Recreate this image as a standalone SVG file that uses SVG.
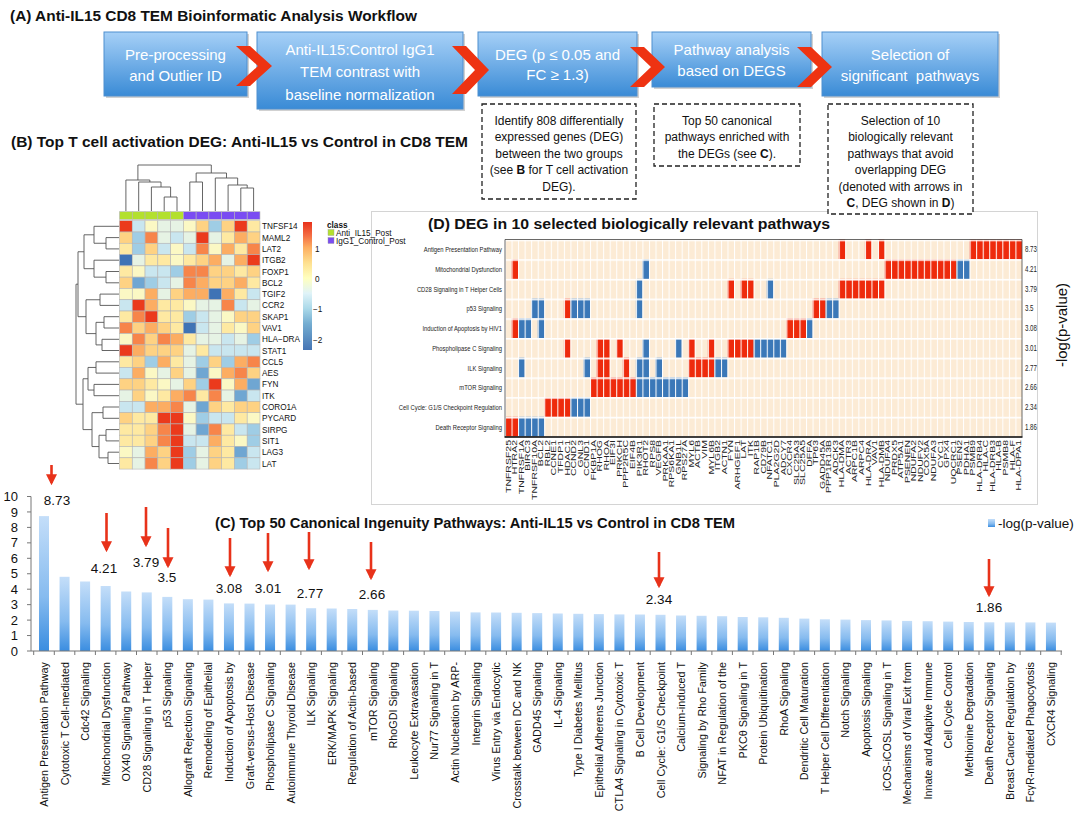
<svg xmlns="http://www.w3.org/2000/svg" xmlns:xlink="http://www.w3.org/1999/xlink" width="1078" height="815" viewBox="0 0 1078 815">
<style>
text{font-family:"Liberation Sans",Arial,sans-serif}
.ttl{font-weight:bold;font-size:14.5px;fill:#111}
.wf{fill:url(#bg);stroke:#4f8fcf;stroke-width:1}
.sh{fill:#9a9a9a;opacity:.45}
.wft{font-size:15px;fill:#fff;text-anchor:middle}
.chev{fill:#ee3312}
.dash{fill:#fff;stroke:#222;stroke-width:1.3;stroke-dasharray:5 3}
.dt{font-size:12px;fill:#111;text-anchor:middle}
.hl{font-size:8.2px;fill:#111}
.dend{fill:none;stroke:#555;stroke-width:.9}
.hm use{stroke:#b5b5b5;stroke-width:.6}
.k0{fill:#3f73b5}.k1{fill:#6fa6d2}.k2{fill:#9fcde5}.k3{fill:#c9e6ef}.k4{fill:#e6f3e4}.k5{fill:#fbf8c4}.k6{fill:#fee9a2}.k7{fill:#fed283}.k8{fill:#fcad62}.k9{fill:#f7854a}.k10{fill:#eb3a1c}
.glab text{font-size:7px;fill:#222;text-anchor:end}
.plab text{font-size:8px;fill:#222;text-anchor:end}
.pval text{font-size:8.5px;fill:#222}
.R{fill:#ee2a0c}.B{fill:#3b78b8}
.bar{fill:url(#barg)}
.xl text{font-size:10.8px;fill:#111;text-anchor:end}
.yl{font-size:13px;fill:#111;text-anchor:end}
.val{font-size:13.5px;fill:#111;text-anchor:middle}
.arr{stroke:#e8321a;stroke-width:2.6;marker-end:url(#ah)}
.ax{stroke:#777;stroke-width:1;fill:none}
</style>
<defs>
<linearGradient id="bg" x1="0" y1="0" x2="0" y2="1"><stop offset="0" stop-color="#a6d0f7"/><stop offset="1" stop-color="#3a8bd6"/></linearGradient>
<linearGradient id="barg" x1="0" y1="0" x2="0" y2="1"><stop offset="0" stop-color="#c4def9"/><stop offset=".6" stop-color="#86bbef"/><stop offset="1" stop-color="#3a8de0"/></linearGradient>
<linearGradient id="cbar" x1="0" y1="0" x2="0" y2="1"><stop offset="0" stop-color="#e8311b"/><stop offset=".105" stop-color="#f46d43"/><stop offset=".2" stop-color="#fdae61"/><stop offset=".319" stop-color="#fee090"/><stop offset=".438" stop-color="#ffffbf"/><stop offset=".557" stop-color="#e0f3f8"/><stop offset=".676" stop-color="#abd9e9"/><stop offset=".795" stop-color="#74add1"/><stop offset="1" stop-color="#4575b4"/></linearGradient>
<pattern id="gl" patternUnits="userSpaceOnUse" x="505" y="239.5" width="6.544" height="19.7"><rect x="0" y="0" width="1" height="19.7" fill="#fff"/><rect x="0" y="0" width="6.544" height="1.6" fill="#fff"/></pattern>
<rect id="c" width="12.77" height="11.29"/>
<marker id="ah" viewBox="0 0 10 10" refX="8" refY="5" markerWidth="11" markerHeight="12" markerUnits="userSpaceOnUse" orient="auto"><path d="M0,0 L10,5 L0,10 z" fill="#e8321a"/></marker>
</defs>
<rect width="1078" height="815" fill="#fff"/>

<!-- Panel A -->
<text class="ttl" x="10" y="21" textLength="407" lengthAdjust="spacingAndGlyphs">(A) Anti-IL15 CD8 TEM Bioinformatic Analysis Workflow</text>
<g id="wf1"><rect class="sh" x="106" y="34" width="143" height="64"/><rect class="wf" x="104" y="32" width="143" height="64"/><text class="wft" x="175.5" y="60">Pre-processing</text><text class="wft" x="175.5" y="81">and Outlier ID</text></g>
<g id="wf2"><rect class="sh" x="259" y="34" width="206" height="77"/><rect class="wf" x="257" y="32" width="206" height="77"/><text class="wft" x="360" y="55">Anti-IL15:Control IgG1</text><text class="wft" x="360" y="77">TEM contrast with</text><text class="wft" x="360" y="100">baseline normalization</text></g>
<g id="wf3"><rect class="sh" x="480" y="34" width="159" height="64"/><rect class="wf" x="478" y="32" width="159" height="64"/><text class="wft" x="557.5" y="60">DEG (p ≤ 0.05 and</text><text class="wft" x="557.5" y="80">FC ≥ 1.3)</text></g>
<g id="wf4"><rect class="sh" x="654" y="34" width="159" height="55"/><rect class="wf" x="652" y="32" width="159" height="55"/><text class="wft" x="731.5" y="55">Pathway analysis</text><text class="wft" x="731.5" y="76">based on DEGS</text></g>
<g id="wf5"><rect class="sh" x="824" y="34" width="176" height="64"/><rect class="wf" x="822" y="32" width="176" height="64"/><text class="wft" x="910" y="60">Selection of</text><text class="wft" x="910" y="81" xml:space="preserve">significant  pathways</text></g>
<g id="chevrons">
<polygon class="chev" points="236,46 250,46 272,66 250,86 236,86 258,66"/>
<polygon class="chev" points="452,46 466,46 489,70 466,94 452,94 475,70"/>
<polygon class="chev" points="630,47 644,47 665,67 644,87 630,87 651,67"/>
<polygon class="chev" points="797,47 811,47 832,67 811,87 797,87 818,67"/>
</g>
<g id="noteA"><rect class="dash" x="482" y="104" width="154" height="95"/>
<text class="dt" x="559" y="124.5">Identify 808 differentially</text><text class="dt" x="559" y="141">expressed genes (DEG)</text><text class="dt" x="559" y="157.5">between the two groups</text><text class="dt" x="559" y="174">(see <tspan font-weight="bold">B</tspan> for T cell activation</text><text class="dt" x="559" y="190.5">DEG).</text></g>
<g id="noteB"><rect class="dash" x="654" y="104" width="146" height="62"/>
<text class="dt" x="727" y="124.5">Top 50 canonical</text><text class="dt" x="727" y="141">pathways enriched with</text><text class="dt" x="727" y="157.5">the DEGs (see <tspan font-weight="bold">C</tspan>).</text></g>

<!-- Panel D box -->
<rect x="371.5" y="211.5" width="666" height="293" fill="none" stroke="#d4d4d4" stroke-width="1"/>

<g id="noteC"><rect class="dash" x="828" y="104" width="145" height="110"/>
<text class="dt" x="900.5" y="124.5">Selection of 10</text><text class="dt" x="900.5" y="141">biologically relevant</text><text class="dt" x="900.5" y="157.5">pathways that avoid</text><text class="dt" x="900.5" y="174">overlapping DEG</text><text class="dt" x="900.5" y="190.5">(denoted with arrows in</text><text class="dt" x="900.5" y="207"><tspan font-weight="bold">C</tspan>, DEG shown in <tspan font-weight="bold">D</tspan>)</text></g>

<!-- Panel B -->
<text class="ttl" x="11" y="147" textLength="457" lengthAdjust="spacingAndGlyphs">(B) Top T cell activation DEG: Anti-IL15 vs Control in CD8 TEM</text>
<g id="dendro-top" class="dend">
<path d="M164.2 211V197H177V211"/><path d="M151.4 211V187H170.6V197"/><path d="M138.7 211V182H161V187"/><path d="M125.9 211V180H149.85V182"/>
<path d="M189.8 211V182H202.5V211"/><path d="M240.8 211V188H253.6V211"/><path d="M228.1 211V185H247.2V188"/><path d="M215.3 211V178H237.65V185"/><path d="M196.15 182V173H226.5V178"/>
<path d="M137.9 180V165H211.3V173"/>
</g>
<g id="dendro-left" class="dend">
<path d="M119 237.6H106V248.9H119"/><path d="M119 226.3H94V243.25H106"/><path d="M119 271.5H106V282.8H119"/><path d="M119 260.2H94V277.15H106"/><path d="M94 234.8H84V268.7H94"/>
<path d="M119 294.1H100V305.4H119"/><path d="M119 316.7H104V328H119"/><path d="M119 339.3H102V350.5H119"/><path d="M104 322.35H96V344.9H102"/><path d="M100 299.75H86V333.6H96"/><path d="M84 251.75H78V316.7H86"/>
<path d="M119 361.8H96V373.1H119"/><path d="M119 384.4H94V395.7H119"/><path d="M119 407H103V418.3H119"/><path d="M119 429.6H106V440.9H119"/><path d="M119 452.2H108V463.5H119"/><path d="M106 435.25H99V457.85H108"/><path d="M103 412.65H92V446.55H99"/><path d="M96 367.45H88V390.05H94"/><path d="M88 378.75H83V429.6H92"/>
<path d="M78 284.2H76V404.2H83"/>
</g>
<g id="classbar" stroke="#b5b5b5" stroke-width=".6">
<rect x="119.5" y="211.7" width="12.77" height="7.6" fill="#b3e02f"/><rect x="132.27" y="211.7" width="12.77" height="7.6" fill="#b3e02f"/><rect x="145.04" y="211.7" width="12.77" height="7.6" fill="#b3e02f"/><rect x="157.81" y="211.7" width="12.77" height="7.6" fill="#b3e02f"/><rect x="170.58" y="211.7" width="12.77" height="7.6" fill="#b3e02f"/>
<rect x="183.35" y="211.7" width="12.77" height="7.6" fill="#7a4cf2"/><rect x="196.12" y="211.7" width="12.77" height="7.6" fill="#7a4cf2"/><rect x="208.89" y="211.7" width="12.77" height="7.6" fill="#7a4cf2"/><rect x="221.66" y="211.7" width="12.77" height="7.6" fill="#7a4cf2"/><rect x="234.43" y="211.7" width="12.77" height="7.6" fill="#7a4cf2"/><rect x="247.2" y="211.7" width="12.77" height="7.6" fill="#7a4cf2"/>
</g>
<g id="heatmapB" class="hm">
<g transform="translate(0,220.7)"><use href="#c" x="119.5" class="k10"/><use href="#c" x="132.27" class="k3"/><use href="#c" x="145.04" class="k5"/><use href="#c" x="157.81" class="k4"/><use href="#c" x="170.58" class="k4"/><use href="#c" x="183.35" class="k5"/><use href="#c" x="196.12" class="k7"/><use href="#c" x="208.89" class="k2"/><use href="#c" x="221.66" class="k7"/><use href="#c" x="234.43" class="k10"/><use href="#c" x="247.2" class="k6"/></g>
<g transform="translate(0,231.99)"><use href="#c" x="119.5" class="k7"/><use href="#c" x="132.27" class="k2"/><use href="#c" x="145.04" class="k9"/><use href="#c" x="157.81" class="k4"/><use href="#c" x="170.58" class="k3"/><use href="#c" x="183.35" class="k4"/><use href="#c" x="196.12" class="k10"/><use href="#c" x="208.89" class="k4"/><use href="#c" x="221.66" class="k6"/><use href="#c" x="234.43" class="k8"/><use href="#c" x="247.2" class="k7"/></g>
<g transform="translate(0,243.28)"><use href="#c" x="119.5" class="k6"/><use href="#c" x="132.27" class="k2"/><use href="#c" x="145.04" class="k7"/><use href="#c" x="157.81" class="k3"/><use href="#c" x="170.58" class="k5"/><use href="#c" x="183.35" class="k3"/><use href="#c" x="196.12" class="k9"/><use href="#c" x="208.89" class="k5"/><use href="#c" x="221.66" class="k8"/><use href="#c" x="234.43" class="k6"/><use href="#c" x="247.2" class="k9"/></g>
<g transform="translate(0,254.57)"><use href="#c" x="119.5" class="k0"/><use href="#c" x="132.27" class="k4"/><use href="#c" x="145.04" class="k6"/><use href="#c" x="157.81" class="k6"/><use href="#c" x="170.58" class="k5"/><use href="#c" x="183.35" class="k6"/><use href="#c" x="196.12" class="k7"/><use href="#c" x="208.89" class="k8"/><use href="#c" x="221.66" class="k4"/><use href="#c" x="234.43" class="k8"/><use href="#c" x="247.2" class="k10"/></g>
<g transform="translate(0,265.86)"><use href="#c" x="119.5" class="k6"/><use href="#c" x="132.27" class="k5"/><use href="#c" x="145.04" class="k3"/><use href="#c" x="157.81" class="k3"/><use href="#c" x="170.58" class="k2"/><use href="#c" x="183.35" class="k9"/><use href="#c" x="196.12" class="k9"/><use href="#c" x="208.89" class="k7"/><use href="#c" x="221.66" class="k7"/><use href="#c" x="234.43" class="k6"/><use href="#c" x="247.2" class="k7"/></g>
<g transform="translate(0,277.15)"><use href="#c" x="119.5" class="k7"/><use href="#c" x="132.27" class="k1"/><use href="#c" x="145.04" class="k2"/><use href="#c" x="157.81" class="k3"/><use href="#c" x="170.58" class="k4"/><use href="#c" x="183.35" class="k9"/><use href="#c" x="196.12" class="k8"/><use href="#c" x="208.89" class="k7"/><use href="#c" x="221.66" class="k7"/><use href="#c" x="234.43" class="k8"/><use href="#c" x="247.2" class="k6"/></g>
<g transform="translate(0,288.44)"><use href="#c" x="119.5" class="k5"/><use href="#c" x="132.27" class="k5"/><use href="#c" x="145.04" class="k8"/><use href="#c" x="157.81" class="k4"/><use href="#c" x="170.58" class="k7"/><use href="#c" x="183.35" class="k8"/><use href="#c" x="196.12" class="k8"/><use href="#c" x="208.89" class="k0"/><use href="#c" x="221.66" class="k8"/><use href="#c" x="234.43" class="k6"/><use href="#c" x="247.2" class="k3"/></g>
<g transform="translate(0,299.73)"><use href="#c" x="119.5" class="k3"/><use href="#c" x="132.27" class="k10"/><use href="#c" x="145.04" class="k8"/><use href="#c" x="157.81" class="k6"/><use href="#c" x="170.58" class="k6"/><use href="#c" x="183.35" class="k5"/><use href="#c" x="196.12" class="k4"/><use href="#c" x="208.89" class="k4"/><use href="#c" x="221.66" class="k9"/><use href="#c" x="234.43" class="k3"/><use href="#c" x="247.2" class="k4"/></g>
<g transform="translate(0,311.02)"><use href="#c" x="119.5" class="k6"/><use href="#c" x="132.27" class="k9"/><use href="#c" x="145.04" class="k10"/><use href="#c" x="157.81" class="k6"/><use href="#c" x="170.58" class="k6"/><use href="#c" x="183.35" class="k2"/><use href="#c" x="196.12" class="k3"/><use href="#c" x="208.89" class="k4"/><use href="#c" x="221.66" class="k5"/><use href="#c" x="234.43" class="k7"/><use href="#c" x="247.2" class="k7"/></g>
<g transform="translate(0,322.31)"><use href="#c" x="119.5" class="k9"/><use href="#c" x="132.27" class="k7"/><use href="#c" x="145.04" class="k8"/><use href="#c" x="157.81" class="k7"/><use href="#c" x="170.58" class="k6"/><use href="#c" x="183.35" class="k0"/><use href="#c" x="196.12" class="k3"/><use href="#c" x="208.89" class="k4"/><use href="#c" x="221.66" class="k6"/><use href="#c" x="234.43" class="k5"/><use href="#c" x="247.2" class="k7"/></g>
<g transform="translate(0,333.6)"><use href="#c" x="119.5" class="k5"/><use href="#c" x="132.27" class="k9"/><use href="#c" x="145.04" class="k7"/><use href="#c" x="157.81" class="k9"/><use href="#c" x="170.58" class="k8"/><use href="#c" x="183.35" class="k6"/><use href="#c" x="196.12" class="k4"/><use href="#c" x="208.89" class="k4"/><use href="#c" x="221.66" class="k3"/><use href="#c" x="234.43" class="k4"/><use href="#c" x="247.2" class="k2"/></g>
<g transform="translate(0,344.89)"><use href="#c" x="119.5" class="k10"/><use href="#c" x="132.27" class="k8"/><use href="#c" x="145.04" class="k7"/><use href="#c" x="157.81" class="k7"/><use href="#c" x="170.58" class="k7"/><use href="#c" x="183.35" class="k4"/><use href="#c" x="196.12" class="k6"/><use href="#c" x="208.89" class="k3"/><use href="#c" x="221.66" class="k3"/><use href="#c" x="234.43" class="k3"/><use href="#c" x="247.2" class="k3"/></g>
<g transform="translate(0,356.18)"><use href="#c" x="119.5" class="k6"/><use href="#c" x="132.27" class="k7"/><use href="#c" x="145.04" class="k2"/><use href="#c" x="157.81" class="k8"/><use href="#c" x="170.58" class="k6"/><use href="#c" x="183.35" class="k4"/><use href="#c" x="196.12" class="k2"/><use href="#c" x="208.89" class="k7"/><use href="#c" x="221.66" class="k2"/><use href="#c" x="234.43" class="k8"/><use href="#c" x="247.2" class="k9"/></g>
<g transform="translate(0,367.47)"><use href="#c" x="119.5" class="k3"/><use href="#c" x="132.27" class="k8"/><use href="#c" x="145.04" class="k5"/><use href="#c" x="157.81" class="k4"/><use href="#c" x="170.58" class="k7"/><use href="#c" x="183.35" class="k4"/><use href="#c" x="196.12" class="k1"/><use href="#c" x="208.89" class="k5"/><use href="#c" x="221.66" class="k8"/><use href="#c" x="234.43" class="k9"/><use href="#c" x="247.2" class="k7"/></g>
<g transform="translate(0,378.76)"><use href="#c" x="119.5" class="k7"/><use href="#c" x="132.27" class="k7"/><use href="#c" x="145.04" class="k6"/><use href="#c" x="157.81" class="k5"/><use href="#c" x="170.58" class="k4"/><use href="#c" x="183.35" class="k7"/><use href="#c" x="196.12" class="k2"/><use href="#c" x="208.89" class="k10"/><use href="#c" x="221.66" class="k5"/><use href="#c" x="234.43" class="k8"/><use href="#c" x="247.2" class="k1"/></g>
<g transform="translate(0,390.05)"><use href="#c" x="119.5" class="k4"/><use href="#c" x="132.27" class="k7"/><use href="#c" x="145.04" class="k5"/><use href="#c" x="157.81" class="k6"/><use href="#c" x="170.58" class="k8"/><use href="#c" x="183.35" class="k9"/><use href="#c" x="196.12" class="k6"/><use href="#c" x="208.89" class="k9"/><use href="#c" x="221.66" class="k4"/><use href="#c" x="234.43" class="k1"/><use href="#c" x="247.2" class="k3"/></g>
<g transform="translate(0,401.34)"><use href="#c" x="119.5" class="k3"/><use href="#c" x="132.27" class="k3"/><use href="#c" x="145.04" class="k8"/><use href="#c" x="157.81" class="k8"/><use href="#c" x="170.58" class="k9"/><use href="#c" x="183.35" class="k4"/><use href="#c" x="196.12" class="k1"/><use href="#c" x="208.89" class="k7"/><use href="#c" x="221.66" class="k6"/><use href="#c" x="234.43" class="k7"/><use href="#c" x="247.2" class="k7"/></g>
<g transform="translate(0,412.63)"><use href="#c" x="119.5" class="k7"/><use href="#c" x="132.27" class="k6"/><use href="#c" x="145.04" class="k6"/><use href="#c" x="157.81" class="k10"/><use href="#c" x="170.58" class="k10"/><use href="#c" x="183.35" class="k5"/><use href="#c" x="196.12" class="k2"/><use href="#c" x="208.89" class="k3"/><use href="#c" x="221.66" class="k3"/><use href="#c" x="234.43" class="k6"/><use href="#c" x="247.2" class="k5"/></g>
<g transform="translate(0,423.92)"><use href="#c" x="119.5" class="k6"/><use href="#c" x="132.27" class="k6"/><use href="#c" x="145.04" class="k7"/><use href="#c" x="157.81" class="k9"/><use href="#c" x="170.58" class="k10"/><use href="#c" x="183.35" class="k4"/><use href="#c" x="196.12" class="k1"/><use href="#c" x="208.89" class="k9"/><use href="#c" x="221.66" class="k6"/><use href="#c" x="234.43" class="k3"/><use href="#c" x="247.2" class="k2"/></g>
<g transform="translate(0,435.21)"><use href="#c" x="119.5" class="k6"/><use href="#c" x="132.27" class="k6"/><use href="#c" x="145.04" class="k7"/><use href="#c" x="157.81" class="k9"/><use href="#c" x="170.58" class="k10"/><use href="#c" x="183.35" class="k3"/><use href="#c" x="196.12" class="k3"/><use href="#c" x="208.89" class="k8"/><use href="#c" x="221.66" class="k6"/><use href="#c" x="234.43" class="k5"/><use href="#c" x="247.2" class="k2"/></g>
<g transform="translate(0,446.5)"><use href="#c" x="119.5" class="k5"/><use href="#c" x="132.27" class="k4"/><use href="#c" x="145.04" class="k8"/><use href="#c" x="157.81" class="k7"/><use href="#c" x="170.58" class="k10"/><use href="#c" x="183.35" class="k2"/><use href="#c" x="196.12" class="k4"/><use href="#c" x="208.89" class="k7"/><use href="#c" x="221.66" class="k6"/><use href="#c" x="234.43" class="k1"/><use href="#c" x="247.2" class="k3"/></g>
<g transform="translate(0,457.79)"><use href="#c" x="119.5" class="k6"/><use href="#c" x="132.27" class="k4"/><use href="#c" x="145.04" class="k9"/><use href="#c" x="157.81" class="k7"/><use href="#c" x="170.58" class="k10"/><use href="#c" x="183.35" class="k2"/><use href="#c" x="196.12" class="k4"/><use href="#c" x="208.89" class="k7"/><use href="#c" x="221.66" class="k6"/><use href="#c" x="234.43" class="k2"/><use href="#c" x="247.2" class="k3"/></g>
</g>
<g id="rowlabelsB" class="hl">
<text x="262" y="229.3">TNFSF14</text><text x="262" y="240.6">MAML2</text><text x="262" y="251.9">LAT2</text><text x="262" y="263.2">ITGB2</text><text x="262" y="274.5">FOXP1</text><text x="262" y="285.8">BCL2</text><text x="262" y="297.1">TGIF2</text><text x="262" y="308.4">CCR2</text><text x="262" y="319.7">SKAP1</text><text x="262" y="331">VAV1</text><text x="262" y="342.3">HLA−DRA</text><text x="262" y="353.5">STAT1</text><text x="262" y="364.8">CCL5</text><text x="262" y="376.1">AES</text><text x="262" y="387.4">FYN</text><text x="262" y="398.7">ITK</text><text x="262" y="410">CORO1A</text><text x="262" y="421.3">PYCARD</text><text x="262" y="432.6">SIRPG</text><text x="262" y="443.9">SIT1</text><text x="262" y="455.2">LAG3</text><text x="262" y="466.5">LAT</text>
</g>
<g id="colorkey">
<rect x="303" y="222" width="9" height="128" fill="url(#cbar)"/>
<text class="hl" x="315" y="251.5" font-size="9">1</text><text class="hl" x="315" y="281.5" font-size="9">0</text><text class="hl" x="313" y="312" font-size="9">−1</text><text class="hl" x="313" y="342.5" font-size="9">−2</text>
</g>
<g id="classlegend">
<text class="hl" x="327" y="228" font-weight="bold">class</text>
<rect x="328" y="229.5" width="6" height="6" fill="#b3e02f" stroke="#999" stroke-width=".4"/><text class="hl" x="336" y="235.5">Anti_IL15_Post</text>
<rect x="328" y="237.5" width="6" height="6" fill="#7a4cf2" stroke="#999" stroke-width=".4"/><text class="hl" x="336" y="243.5">IgG1_Control_Post</text>
</g>

<!-- Panel D -->
<text class="ttl" x="428" y="229" textLength="402" lengthAdjust="spacingAndGlyphs">(D) DEG in 10 selected biologically relevant pathways</text>
<g id="heatmapD">
<rect x="505" y="239.5" width="517" height="197" fill="#fcebd5"/>
<g transform="translate(0,239.5)"><rect class="R" x="838.74" width="6.54" height="19.7"/><rect class="R" x="864.92" width="6.54" height="19.7"/><rect class="R" x="878.01" width="6.54" height="19.7"/><rect class="R" x="969.62" width="52.35" height="19.7"/></g>
<g transform="translate(0,259.2)"><rect class="R" x="511.54" width="6.54" height="19.7"/><rect class="B" x="642.42" width="6.54" height="19.7"/><rect class="R" x="884.55" width="71.98" height="19.7"/><rect class="B" x="956.54" width="13.09" height="19.7"/></g>
<g transform="translate(0,278.9)"><rect class="B" x="635.88" width="6.54" height="19.7"/><rect class="R" x="727.5" width="6.54" height="19.7"/><rect class="R" x="740.58" width="13.09" height="19.7"/><rect class="B" x="766.76" width="6.54" height="19.7"/><rect class="R" x="838.74" width="45.81" height="19.7"/></g>
<g transform="translate(0,298.6)"><rect class="B" x="531.18" width="13.09" height="19.7"/><rect class="R" x="563.9" width="6.54" height="19.7"/><rect class="B" x="570.44" width="19.63" height="19.7"/><rect class="B" x="635.88" width="6.54" height="19.7"/><rect class="R" x="812.57" width="13.09" height="19.7"/><rect class="B" x="825.66" width="13.09" height="19.7"/></g>
<g transform="translate(0,318.3)"><rect class="R" x="511.54" width="6.54" height="19.7"/><rect class="B" x="518.09" width="13.09" height="19.7"/><rect class="B" x="537.72" width="6.54" height="19.7"/><rect class="R" x="786.39" width="19.63" height="19.7"/><rect class="B" x="806.02" width="6.54" height="19.7"/></g>
<g transform="translate(0,338)"><rect class="R" x="563.9" width="6.54" height="19.7"/><rect class="R" x="596.62" width="13.09" height="19.7"/><rect class="R" x="616.25" width="6.54" height="19.7"/><rect class="B" x="642.42" width="6.54" height="19.7"/><rect class="B" x="675.14" width="6.54" height="19.7"/><rect class="R" x="688.23" width="6.54" height="19.7"/><rect class="R" x="707.86" width="6.54" height="19.7"/><rect class="R" x="727.5" width="26.18" height="19.7"/><rect class="B" x="753.67" width="32.72" height="19.7"/></g>
<g transform="translate(0,357.7)"><rect class="B" x="518.09" width="6.54" height="19.7"/><rect class="B" x="583.53" width="6.54" height="19.7"/><rect class="R" x="596.62" width="13.09" height="19.7"/><rect class="R" x="622.79" width="6.54" height="19.7"/><rect class="B" x="635.88" width="13.09" height="19.7"/><rect class="B" x="655.51" width="6.54" height="19.7"/><rect class="R" x="688.23" width="26.18" height="19.7"/><rect class="B" x="714.41" width="13.09" height="19.7"/></g>
<g transform="translate(0,377.4)"><rect class="R" x="590.07" width="45.81" height="19.7"/><rect class="B" x="635.88" width="52.35" height="19.7"/></g>
<g transform="translate(0,397.1)"><rect class="R" x="544.26" width="26.18" height="19.7"/><rect class="B" x="570.44" width="19.63" height="19.7"/></g>
<g transform="translate(0,416.8)"><rect class="R" x="505" width="13.09" height="19.7"/><rect class="B" x="518.09" width="26.18" height="19.7"/></g>
<rect x="505" y="239.5" width="517" height="197" fill="url(#gl)"/>
<path d="M505 436.5V239.5H1022V436.5" fill="none" stroke="#444" stroke-width=".8"/>
<path d="M504.5 437H1022.5" stroke="#000" stroke-width="1.6"/>
</g>
<g id="pathwaylabelsD" class="plab" transform="translate(502,0) scale(0.73,1)">
<text y="252.35">Antigen Presentation Pathway</text><text y="272.05">Mitochondrial Dysfunction</text><text y="291.75">CD28 Signaling in T Helper Cells</text><text y="311.45">p53 Signaling</text><text y="331.15">Induction of Apoptosis by HIV1</text><text y="350.85">Phospholipase C Signaling</text><text y="370.55">ILK Signaling</text><text y="390.25">mTOR Signaling</text><text y="409.95">Cell Cycle: G1/S Checkpoint Regulation</text><text y="429.65">Death Receptor Signaling</text>
</g>
<g id="pvaluesD" class="pval" transform="translate(1025,0) scale(0.72,1)">
<text y="252.35">8.73</text><text y="272.05">4.21</text><text y="291.75">3.79</text><text y="311.45">3.5</text><text y="331.15">3.08</text><text y="350.85">3.01</text><text y="370.55">2.77</text><text y="390.25">2.66</text><text y="409.95">2.34</text><text y="429.65">1.86</text>
</g>
<text x="1067" y="325" font-size="15" fill="#111" text-anchor="middle" transform="rotate(-90 1067 325)">-log(p-value)</text>
<g id="genelabelsD" class="glab" transform="translate(0,440) rotate(-90) scale(1.5,1)">
<text y="510.67">TNFRSF25</text><text y="517.21">HTRA2</text><text y="523.76">TNFRSF1A</text><text y="530.3">BIRC3</text><text y="536.85">TNFRSF10A</text><text y="543.39">BCL2</text><text y="549.93">RBL2</text><text y="556.48">CCNE1</text><text y="563.02">TFDP1</text><text y="569.57">HDAC1</text><text y="576.11">CCND2</text><text y="582.65">GNL3</text><text y="589.2">CCND1</text><text y="595.74">FKBP1A</text><text y="602.29">RHOG</text><text y="608.83">RHOA</text><text y="615.37">EIF3I</text><text y="621.92">PRKCH</text><text y="628.46">PPP2R5C</text><text y="635.01">EIF4B</text><text y="641.55">PIK3R1</text><text y="648.09">RHOT2</text><text y="654.64">RPS8</text><text y="661.18">VEGFB</text><text y="667.73">PRKAA1</text><text y="674.27">RPS6KA1</text><text y="680.81">GNB1L</text><text y="687.36">RPS27A</text><text y="693.9">MYL6</text><text y="700.45">ACTB</text><text y="706.99">VIM</text><text y="713.53">MYL6B</text><text y="720.08">ITGB2</text><text y="726.62">ACTN1</text><text y="733.17">FYN</text><text y="739.71">ARHGEF1</text><text y="746.25">LAT</text><text y="752.8">ITK</text><text y="759.34">RAP1B</text><text y="765.89">CD79B</text><text y="772.43">NFATC1</text><text y="778.97">PLA2G2D</text><text y="785.52">ADCY7</text><text y="792.06">CXCR4</text><text y="798.61">SLC25A3</text><text y="805.15">SLC25A5</text><text y="811.69">DFFA</text><text y="818.24">TP63</text><text y="824.78">GADD45A</text><text y="831.33">PPP1R13B</text><text y="837.87">ADCK3</text><text y="844.41">HLA-DMA</text><text y="850.96">ACTR3</text><text y="857.5">ARPC1B</text><text y="864.05">ARPC4</text><text y="870.59">HLA-DRA</text><text y="877.13">VAV1</text><text y="883.68">HLA-DMB</text><text y="890.22">NDUFA4</text><text y="896.77">PRDX5</text><text y="903.31">ATP5A1</text><text y="909.85">PSENEN</text><text y="916.4">NDUFA2</text><text y="922.94">NDUFV2</text><text y="929.49">COX5A</text><text y="936.03">NDUFA3</text><text y="942.57">CYC1</text><text y="949.12">GPX4</text><text y="955.66">UQCRC1</text><text y="962.21">PSEN2</text><text y="968.75">PDHA1</text><text y="975.29">PSMB9</text><text y="981.84">HLA-DRB4</text><text y="988.38">HLA-C</text><text y="994.93">HLA-DRB3</text><text y="1001.47">HLA-B</text><text y="1008.01">PSMB8</text><text y="1014.56">HLA-F</text><text y="1021.1">HLA-DPA1</text>
</g>

<!-- Panel C -->
<text class="ttl" x="215" y="528" textLength="520" lengthAdjust="spacingAndGlyphs">(C) Top 50 Canonical Ingenuity Pathways: Anti-IL15 vs Control in CD8 TEM</text>
<g id="legendC"><rect x="988" y="519" width="7" height="8" fill="url(#barg)"/><text x="998" y="527.5" font-size="13.5" fill="#111">-log(p-value)</text></g>
<g id="yaxis">
<path class="ax" d="M31 496.5V651"/>
<path class="ax" d="M27 651H31M27 635.55H31M27 620.1H31M27 604.65H31M27 589.2H31M27 573.75H31M27 558.3H31M27 542.85H31M27 527.4H31M27 511.95H31M27 496.5H31"/>
<text class="yl" x="18" y="655.5">0</text><text class="yl" x="18" y="640">1</text><text class="yl" x="18" y="624.6">2</text><text class="yl" x="18" y="609.2">3</text><text class="yl" x="18" y="593.7">4</text><text class="yl" x="18" y="578.3">5</text><text class="yl" x="18" y="562.8">6</text><text class="yl" x="18" y="547.4">7</text><text class="yl" x="18" y="531.9">8</text><text class="yl" x="18" y="516.5">9</text><text class="yl" x="18" y="501">10</text>
</g>
<g id="bars">
<rect class="bar" x="39" y="516.1" width="10" height="134.9"/><rect class="bar" x="59.55" y="576.8" width="10" height="74.2"/><rect class="bar" x="80.1" y="581.5" width="10" height="69.5"/><rect class="bar" x="100.65" y="586" width="10" height="65"/><rect class="bar" x="121.2" y="591.5" width="10" height="59.5"/><rect class="bar" x="141.75" y="592.4" width="10" height="58.6"/><rect class="bar" x="162.3" y="596.9" width="10" height="54.1"/><rect class="bar" x="182.85" y="599.2" width="10" height="51.8"/><rect class="bar" x="203.4" y="599.6" width="10" height="51.4"/><rect class="bar" x="223.95" y="603.4" width="10" height="47.6"/>
<rect class="bar" x="244.5" y="603.6" width="10" height="47.4"/><rect class="bar" x="265.05" y="604.5" width="10" height="46.5"/><rect class="bar" x="285.6" y="604.6" width="10" height="46.4"/><rect class="bar" x="306.15" y="608.2" width="10" height="42.8"/><rect class="bar" x="326.7" y="608.5" width="10" height="42.5"/><rect class="bar" x="347.25" y="609" width="10" height="42"/><rect class="bar" x="367.8" y="609.9" width="10" height="41.1"/><rect class="bar" x="388.35" y="610.5" width="10" height="40.5"/><rect class="bar" x="408.9" y="610.7" width="10" height="40.3"/><rect class="bar" x="429.45" y="611" width="10" height="40"/>
<rect class="bar" x="450" y="611.6" width="10" height="39.4"/><rect class="bar" x="470.55" y="612.4" width="10" height="38.6"/><rect class="bar" x="491.1" y="612.5" width="10" height="38.5"/><rect class="bar" x="511.65" y="612.8" width="10" height="38.2"/><rect class="bar" x="532.2" y="613.1" width="10" height="37.9"/><rect class="bar" x="552.75" y="613.5" width="10" height="37.5"/><rect class="bar" x="573.3" y="613.8" width="10" height="37.2"/><rect class="bar" x="593.85" y="614.1" width="10" height="36.9"/><rect class="bar" x="614.4" y="614.4" width="10" height="36.6"/><rect class="bar" x="634.95" y="614.5" width="10" height="36.5"/>
<rect class="bar" x="655.5" y="614.8" width="10" height="36.2"/><rect class="bar" x="676.05" y="615.5" width="10" height="35.5"/><rect class="bar" x="696.6" y="615.8" width="10" height="35.2"/><rect class="bar" x="717.15" y="616.2" width="10" height="34.8"/><rect class="bar" x="737.7" y="617" width="10" height="34"/><rect class="bar" x="758.25" y="617.3" width="10" height="33.7"/><rect class="bar" x="778.8" y="617.8" width="10" height="33.2"/><rect class="bar" x="799.35" y="618.6" width="10" height="32.4"/><rect class="bar" x="819.9" y="619.3" width="10" height="31.7"/><rect class="bar" x="840.45" y="619.6" width="10" height="31.4"/>
<rect class="bar" x="861" y="620.1" width="10" height="30.9"/><rect class="bar" x="881.55" y="620.4" width="10" height="30.6"/><rect class="bar" x="902.1" y="620.9" width="10" height="30.1"/><rect class="bar" x="922.65" y="621.2" width="10" height="29.8"/><rect class="bar" x="943.2" y="621.6" width="10" height="29.4"/><rect class="bar" x="963.75" y="622" width="10" height="29"/><rect class="bar" x="984.3" y="622.3" width="10" height="28.7"/><rect class="bar" x="1004.85" y="622.4" width="10" height="28.6"/><rect class="bar" x="1025.4" y="622.4" width="10" height="28.6"/><rect class="bar" x="1045.95" y="622.6" width="10" height="28.4"/>
</g>
<g id="xaxis">
<path class="ax" d="M31 651H1062"/>
<path class="ax" d="M33.7 651v4M54.3 651v4M74.8 651v4M95.4 651v4M115.9 651v4M136.5 651v4M157 651v4M177.6 651v4M198.1 651v4M218.7 651v4M239.2 651v4M259.8 651v4M280.3 651v4M300.9 651v4M321.4 651v4M342 651v4M362.5 651v4M383.1 651v4M403.6 651v4M424.2 651v4M444.7 651v4M465.3 651v4M485.8 651v4M506.4 651v4M526.9 651v4M547.5 651v4M568 651v4M588.6 651v4M609.1 651v4M629.7 651v4M650.2 651v4M670.8 651v4M691.3 651v4M711.9 651v4M732.4 651v4M753 651v4M773.5 651v4M794.1 651v4M814.6 651v4M835.2 651v4M855.7 651v4M876.3 651v4M896.8 651v4M917.4 651v4M937.9 651v4M958.5 651v4M979 651v4M999.6 651v4M1020.1 651v4M1040.7 651v4M1061.2 651v4"/>
</g>
<g id="xlabels" class="xl" transform="translate(0,662) rotate(-90)">
<text y="48">Antigen Presentation Pathway</text><text y="68.55">Cytotoxic T Cell-mediated</text><text y="89.1">Cdc42 Signaling</text><text y="109.65">Mitochondrial Dysfunction</text><text y="130.2">OX40 Signaling Pathway</text><text y="150.75">CD28 Signaling in T Helper</text><text y="171.3">p53 Signaling</text><text y="191.85">Allograft Rejection Signaling</text><text y="212.4">Remodeling of Epithelial</text><text y="232.95">Induction of Apoptosis by</text>
<text y="253.5">Graft-versus-Host Disease</text><text y="274.05">Phospholipase C Signaling</text><text y="294.6">Autoimmune Thyroid Disease</text><text y="315.15">ILK Signaling</text><text y="335.7">ERK/MAPK Signaling</text><text y="356.25">Regulation of Actin-based</text><text y="376.8">mTOR Signaling</text><text y="397.35">RhoGDI Signaling</text><text y="417.9">Leukocyte Extravasation</text><text y="438.45">Nur77 Signaling in T</text>
<text y="459">Actin Nucleation by ARP-</text><text y="479.55">Integrin Signaling</text><text y="500.1">Virus Entry via Endocytic</text><text y="520.65">Crosstalk between DC and NK</text><text y="541.2">GADD45 Signaling</text><text y="561.75">IL-4 Signaling</text><text y="582.3">Type I Diabetes Mellitus</text><text y="602.85">Epithelial Adherens Junction</text><text y="623.4">CTLA4 Signaling in Cytotoxic T</text><text y="643.95">B Cell Development</text>
<text y="664.5">Cell Cycle: G1/S Checkpoint</text><text y="685.05">Calcium-induced T</text><text y="705.6">Signaling by Rho Family</text><text y="726.15">NFAT in Regulation of the</text><text y="746.7">PKCθ Signaling in T</text><text y="767.25">Protein Ubiquitination</text><text y="787.8">RhoA Signaling</text><text y="808.35">Dendritic Cell Maturation</text><text y="828.9">T Helper Cell Differentiation</text><text y="849.45">Notch Signaling</text>
<text y="870">Apoptosis Signaling</text><text y="890.55">iCOS-iCOSL Signaling in T</text><text y="911.1">Mechanisms of Viral Exit from</text><text y="931.65">Innate and Adaptive Immune</text><text y="952.2">Cell Cycle Control</text><text y="972.75">Methionine Degradation</text><text y="993.3">Death Receptor Signaling</text><text y="1013.85">Breast Cancer Regulation by</text><text y="1034.4">FcγR-mediated Phagocytosis</text><text y="1054.95">CXCR4 Signaling</text>
</g>
<g id="arrows">
<line class="arr" x1="51.5" y1="465" x2="51.5" y2="483"/><line class="arr" x1="106.5" y1="513" x2="106.5" y2="550"/><line class="arr" x1="146" y1="507" x2="146" y2="545"/><line class="arr" x1="168" y1="528" x2="168" y2="566"/><line class="arr" x1="230" y1="538" x2="230" y2="575"/><line class="arr" x1="268" y1="533" x2="268" y2="570"/><line class="arr" x1="309" y1="532" x2="309" y2="568"/><line class="arr" x1="371" y1="542" x2="371" y2="578"/><line class="arr" x1="659" y1="552" x2="659" y2="586"/><line class="arr" x1="989" y1="559" x2="989" y2="595"/>
</g>
<g id="valuelabels">
<text class="val" x="57" y="505">8.73</text><text class="val" x="104" y="573">4.21</text><text class="val" x="146" y="567">3.79</text><text class="val" x="167" y="582">3.5</text><text class="val" x="229" y="593">3.08</text><text class="val" x="268" y="593">3.01</text><text class="val" x="310" y="598">2.77</text><text class="val" x="372" y="599">2.66</text><text class="val" x="659" y="604">2.34</text><text class="val" x="989" y="612">1.86</text>
</g>
</svg>
